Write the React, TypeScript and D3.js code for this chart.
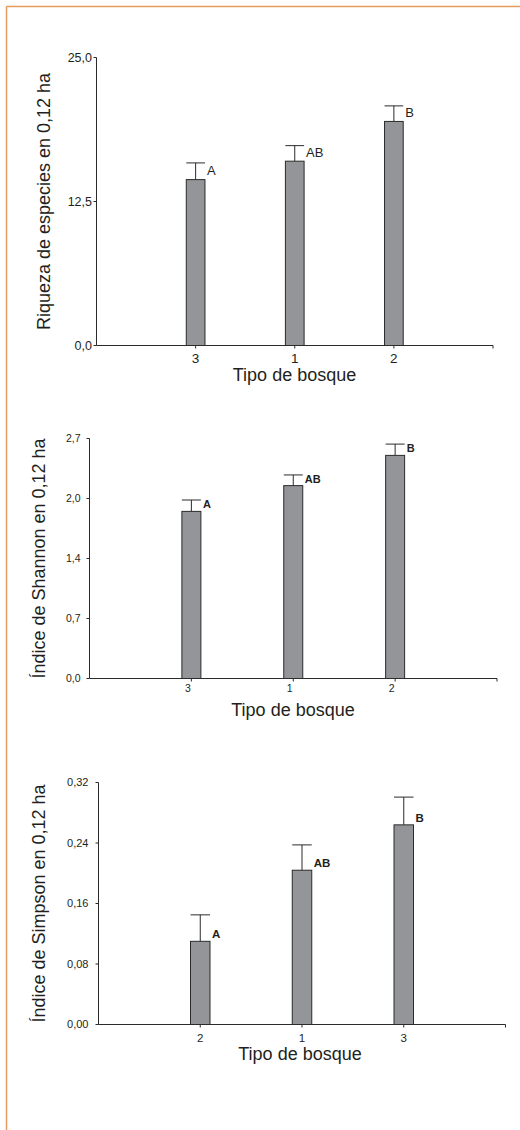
import React from 'react';
import * as d3 from 'd3';

// Riqueza de especies
const riquezaCategories = ['3', '1', '2'];
const riquezaValues = [14.4, 16.0, 19.45];
const riquezaErrors = [1.45, 1.35, 1.35];
const riquezaLetters = ['A', 'AB', 'B'];
const riquezaTicks = [0, 12.5, 25];
const riquezaTickLabels = ['0,0', '12,5', '25,0'];

// Índice de Shannon
const shannonCategories = ['3', '1', '2'];
const shannonValues = [1.88, 2.17, 2.51];
const shannonErrors = [0.128, 0.12, 0.127];
const shannonLetters = ['A', 'AB', 'B'];
const shannonTicks = [0, 0.675, 1.35, 2.025, 2.7];
const shannonTickLabels = ['0,0', '0,7', '1,4', '2,0', '2,7'];

// Índice de Simpson
const simpsonCategories = ['2', '1', '3'];
const simpsonValues = [0.11, 0.204, 0.264];
const simpsonErrors = [0.035, 0.0335, 0.0367];
const simpsonLetters = ['A', 'AB', 'B'];
const simpsonTicks = [0, 0.08, 0.16, 0.24, 0.32];
const simpsonTickLabels = ['0,00', '0,08', '0,16', '0,24', '0,32'];

const FONT = "'Liberation Sans', Arial, Helvetica, sans-serif";
const INK = '#231f20';
const AXIS = '#2b2b2b';
const BAR_FILL = '#939598';

type PanelProps = {
  categories: string[];
  values: number[];
  errors: number[];
  letters: string[];
  ticks: number[];
  tickLabels: string[];
  yTitle: string;
  x0: number;
  x1: number;
  y0: number;
  y1: number;
  barWidth: number;
  tickFont: number;
  tickGap: number;
  catFont: number;
  catBaseline: number;
  catDx: number;
  letterFont: number;
  letterWeight: number;
  letterLift: number;
  titleBaseline: number;
  titleX: number;
  yTitleX: number;
};

function Panel(p: PanelProps) {
  const yMax = p.ticks[p.ticks.length - 1];
  const y = d3.scaleLinear().domain([0, yMax]).range([p.y0, p.y1]);
  const x = d3.scalePoint<string>().domain(p.categories).range([p.x0, p.x1]).padding(1);
  const bw = p.barWidth;
  const yMid = (p.y0 + p.y1) / 2;

  return (
    <g fontFamily={FONT}>
      {/* y axis */}
      <line x1={p.x0} x2={p.x0} y1={y(yMax)} y2={y(0)} stroke={AXIS} strokeWidth={1} />
      {p.ticks.map((t, i) => (
        <g key={'yt' + i}>
          <line x1={p.x0 - 3} x2={p.x0} y1={y(t)} y2={y(t)} stroke={AXIS} strokeWidth={1} />
          <text
            x={p.x0 - p.tickGap}
            y={y(t)}
            dy="0.35em"
            textAnchor="end"
            fontSize={p.tickFont}
            fill={INK}
          >
            {p.tickLabels[i]}
          </text>
        </g>
      ))}
      {/* x axis */}
      <line x1={p.x0} x2={p.x1} y1={p.y0} y2={p.y0} stroke={AXIS} strokeWidth={1} />
      <line x1={p.x1} x2={p.x1} y1={p.y0} y2={p.y0 + 3} stroke={AXIS} strokeWidth={1} />
      {p.categories.map((c) => (
        <g key={'xt' + c}>
          <line x1={x(c)!} x2={x(c)!} y1={p.y0} y2={p.y0 + 3} stroke={AXIS} strokeWidth={1} />
          <text
            x={x(c)! + p.catDx}
            y={p.catBaseline}
            textAnchor="middle"
            fontSize={p.catFont}
            fill={INK}
          >
            {c}
          </text>
        </g>
      ))}
      {/* bars, upper error bars and group letters */}
      {p.categories.map((c, i) => {
        const cx = x(c)!;
        const top = y(p.values[i]);
        const cap = y(p.values[i] + p.errors[i]);
        return (
          <g key={'bar' + c}>
            <line x1={cx} x2={cx} y1={top} y2={cap} stroke={AXIS} strokeWidth={1} />
            <line x1={cx - bw / 2} x2={cx + bw / 2} y1={cap} y2={cap} stroke={AXIS} strokeWidth={1} />
            <rect
              x={cx - bw / 2}
              y={top}
              width={bw}
              height={p.y0 - top}
              fill={BAR_FILL}
              stroke={AXIS}
              strokeWidth={1}
            />
            <text
              x={cx + bw / 2 + 2}
              y={top - p.letterLift}
              fontSize={p.letterFont}
              fontWeight={p.letterWeight}
              fill={INK}
            >
              {p.letters[i]}
            </text>
          </g>
        );
      })}
      {/* titles */}
      <text x={p.titleX} y={p.titleBaseline} textAnchor="middle" fontSize={18} fill={INK}>
        Tipo de bosque
      </text>
      <text
        transform={`translate(${p.yTitleX},${yMid}) rotate(-90)`}
        textAnchor="middle"
        fontSize={18}
        fill={INK}
      >
        {p.yTitle}
      </text>
    </g>
  );
}

export default function App() {
  return (
    <svg
      width={520}
      height={1130}
      style={{ position: 'absolute', left: 0, top: 0, display: 'block', background: '#fff' }}
    >
      <rect x={0} y={0} width={520} height={1130} fill="#ffffff" />
      {/* frame */}
      <line x1={6.5} x2={520} y1={6.5} y2={6.5} stroke="#e59b5c" strokeWidth={1.5} />
      <line x1={6.5} x2={6.5} y1={6.5} y2={1130} stroke="#e59b5c" strokeWidth={1.5} />

      <Panel
        categories={riquezaCategories}
        values={riquezaValues}
        errors={riquezaErrors}
        letters={riquezaLetters}
        ticks={riquezaTicks}
        tickLabels={riquezaTickLabels}
        yTitle="Riqueza de especies en 0,12 ha"
        x0={96.5}
        x1={493}
        y0={345.5}
        y1={57.5}
        barWidth={18.7}
        tickFont={12.5}
        tickGap={4.5}
        catFont={13.5}
        catBaseline={363}
        catDx={0}
        letterFont={13}
        letterWeight={400}
        letterLift={4.5}
        titleBaseline={381}
        titleX={294.5}
        yTitleX={50}
      />
      <Panel
        categories={shannonCategories}
        values={shannonValues}
        errors={shannonErrors}
        letters={shannonLetters}
        ticks={shannonTicks}
        tickLabels={shannonTickLabels}
        yTitle="Índice de Shannon en 0,12 ha"
        x0={89.5}
        x1={497}
        y0={678.5}
        y1={438.5}
        barWidth={19}
        tickFont={10.5}
        tickGap={9}
        catFont={10.5}
        catBaseline={692}
        catDx={-3.5}
        letterFont={11}
        letterWeight={700}
        letterLift={3}
        titleBaseline={716}
        titleX={293}
        yTitleX={45}
      />
      <Panel
        categories={simpsonCategories}
        values={simpsonValues}
        errors={simpsonErrors}
        letters={simpsonLetters}
        ticks={simpsonTicks}
        tickLabels={simpsonTickLabels}
        yTitle="Índice de Simpson en 0,12 ha"
        x0={98.5}
        x1={505.5}
        y0={1024.5}
        y1={782.5}
        barWidth={19.5}
        tickFont={11}
        tickGap={10}
        catFont={11.5}
        catBaseline={1042}
        catDx={0}
        letterFont={11.5}
        letterWeight={700}
        letterLift={3}
        titleBaseline={1059.5}
        titleX={300}
        yTitleX={45}
      />
    </svg>
  );
}
